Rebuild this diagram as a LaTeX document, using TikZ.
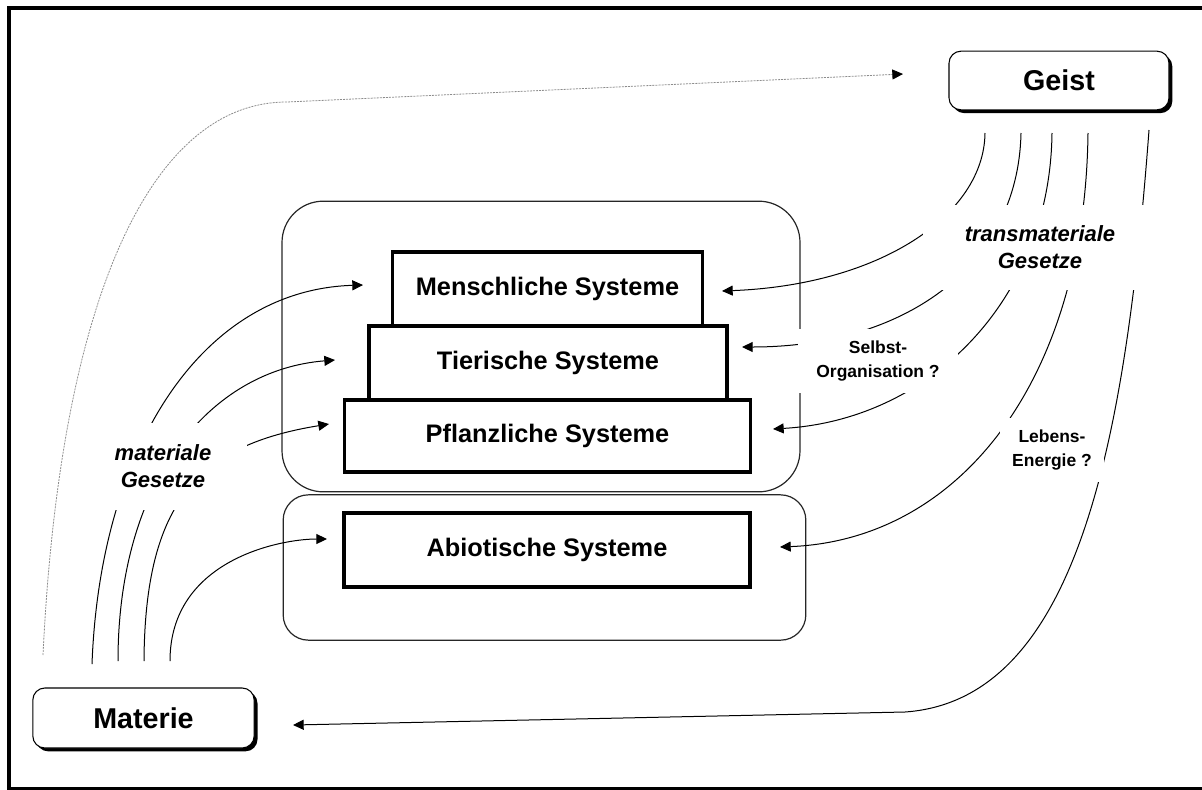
\documentclass[tikz,border=0pt]{standalone}
\usepackage{fontspec}
\setmainfont{Liberation Sans}
\usetikzlibrary{arrows.meta,shadows}
\begin{document}
\begin{tikzpicture}[x=0.75pt,y=-0.75pt,
  container/.style={draw=black!85, line width=0.9pt, inner sep=0pt},
  sysbox/.style={draw, line width=2.4pt, fill=white, inner sep=0pt,
    font=\bfseries\fontsize{19}{23}\selectfont},
  pole/.style={draw, line width=0.8pt, rounded corners=9pt, fill=white, inner sep=0pt,
    font=\bfseries\fontsize{21.5}{26}\selectfont,
    drop shadow={shadow xshift=2.5pt, shadow yshift=-2.5pt, fill=black, opacity=1}},
  lawlabel/.style={fill=white, inner sep=0pt, align=center,
    font=\bfseries\itshape\fontsize{16.5}{20.3}\selectfont},
  qlabel/.style={fill=white, inner sep=0pt, align=center,
    font=\bfseries\fontsize{13.1}{18}\selectfont},
  link/.style={line width=0.75pt, -{Triangle[length=8pt,width=7.5pt]}},
  hint/.style={draw=black!45, line width=0.6pt, dash pattern=on 1.5pt off 0.8pt,
    -{Triangle[length=8pt,width=7.5pt,color=black,fill=black]}}
]
\useasboundingbox (0,0) rectangle (1202,789);

% outer frame (runs past the right and bottom page edges)
\draw[line width=3pt] (9,8) rectangle (1212,789);

% containers
\node[container, rounded corners=31pt, minimum width=388.5pt, minimum height=218pt]
  (living) at (541,346.5) {};
\node[container, rounded corners=19pt, minimum width=392pt, minimum height=109pt]
  (abiotic) at (544.5,567.5) {};

% end points of the connectors
\coordinate (mStart) at (43,655);
\coordinate (gHint) at (903,74);
\coordinate (mA) at (92,664);
\coordinate (mB) at (118,661);
\coordinate (mC) at (144,661);
\coordinate (mD) at (170,661);
\coordinate (lMensch) at (363,285);
\coordinate (lTier) at (335,360);
\coordinate (lPflanz) at (329,424);
\coordinate (lAbio) at (327,539);
\coordinate (gA) at (985,133);
\coordinate (gB) at (1021,133);
\coordinate (gC) at (1052,133);
\coordinate (gD) at (1088,133);
\coordinate (gE) at (1149,130);
\coordinate (rMensch) at (722,291);
\coordinate (rTier) at (742,347);
\coordinate (rPflanz) at (773,429);
\coordinate (rAbio) at (780,547);
\coordinate (rMaterie) at (293,725);

% dotted link from matter to mind
\draw[hint] (mStart) .. controls (60,300) and (150,102) .. (287,102) -- (gHint);

% material laws
\draw[link] (mA) .. controls (100,450) and (200,290) .. (lMensch);
\draw[link] (mB) .. controls (118,480) and (210,370) .. (lTier);
\draw[link] (mC) .. controls (145,500) and (200,445) .. (lPflanz);
\draw[link] (mD) .. controls (170,560) and (280,539) .. (lAbio);

% transmaterial laws
\draw[link] (gA) .. controls (984,215) and (880,285) .. (rMensch);
\draw[link] (gB) .. controls (1018,270) and (900,347) .. (rTier);
\draw[link] (gC) .. controls (1050,300) and (930,420) .. (rPflanz);
\draw[link] (gD) .. controls (1085,380) and (960,540) .. (rAbio);
\draw[link] (gE) .. controls (1125,450) and (1075,700) .. (905,712) -- (rMaterie);

% labels on white ground
\node[lawlabel, minimum width=126pt, minimum height=65pt] (matLaw) at (163,466.5)
  {materiale\\Gesetze};
\node[lawlabel, minimum width=175.5pt, minimum height=64pt] (transLaw) at (1040,247.5)
  {transmateriale\\Gesetze};
\node[qlabel, minimum width=120pt, minimum height=48pt] (selbst) at (878,361)
  {Selbst-\\Organisation ?};
\node[qlabel, minimum width=78pt, minimum height=48pt] (lebens) at (1052,450)
  {Lebens-\\Energie ?};

% system levels
\node[sysbox, minimum width=233pt, minimum height=55.5pt] (mensch) at (547.5,289)
  {Menschliche Systeme};
\node[sysbox, minimum width=268.5pt, minimum height=55.5pt] (tier) at (548,363)
  {Tierische Systeme};
\node[sysbox, minimum width=304pt, minimum height=54pt] (pflanz) at (547.5,436)
  {Pflanzliche Systeme};
\node[sysbox, minimum width=304.5pt, minimum height=55.5pt] (abio) at (547,550)
  {Abiotische Systeme};

% poles
\node[pole, minimum width=165pt, minimum height=44pt] (geist) at (1059,80.5) {Geist};
\node[pole, minimum width=166pt, minimum height=45pt] (materie) at (143.5,718) {Materie};
\end{tikzpicture}
\end{document}
